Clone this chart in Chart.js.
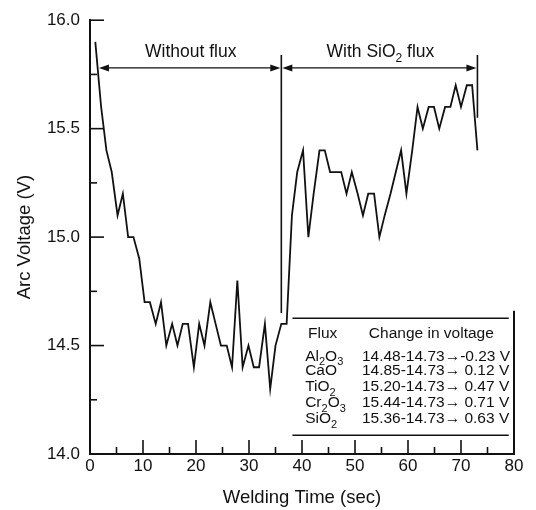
<!DOCTYPE html>
<html>
<head>
<meta charset="utf-8">
<script src="https://cdn.jsdelivr.net/npm/chart.js@4.4.1/dist/chart.umd.min.js"></script>
<style>
  html, body { margin: 0; padding: 0; background: #fff; }
  canvas { display: block; }
</style>
</head>
<body>
<canvas id="chart" width="536" height="510"></canvas>
<script>
// welding time (sec) of each reading
const times = [
  1.0, 2.1, 3.1, 4.1, 5.2, 6.2, 7.2, 8.2, 9.3, 10.3,
  11.3, 12.4, 13.4, 14.4, 15.5, 16.5, 17.5, 18.5, 19.6, 20.6,
  21.6, 22.7, 23.7, 24.7, 25.8, 26.8, 27.8, 28.8, 29.9, 30.9,
  31.9, 33.0, 34.0, 35.0, 36.1, 37.1, 38.1, 39.1, 40.2, 41.2,
  42.2, 43.3, 44.3, 45.3, 46.4, 47.4, 48.4, 49.4, 50.5, 51.5,
  52.5, 53.6, 54.6, 55.6, 56.7, 57.7, 58.7, 59.7, 60.8, 61.8,
  62.8, 63.9, 64.9, 65.9, 67.0, 68.0, 69.0, 70.0, 71.1, 72.1,
  73.1
];
// arc voltage (V)
const voltage = [
  15.9, 15.6, 15.4, 15.3, 15.1, 15.2, 15.0, 15.0, 14.9, 14.7,
  14.7, 14.6, 14.7, 14.5, 14.6, 14.5, 14.6, 14.6, 14.4, 14.6,
  14.5, 14.7, 14.6, 14.5, 14.5, 14.4, 14.8, 14.4, 14.5, 14.4,
  14.4, 14.6, 14.3, 14.5, 14.6, 14.6, 15.1, 15.3, 15.4, 15.0,
  15.2, 15.4, 15.4, 15.3, 15.3, 15.3, 15.2, 15.3, 15.2, 15.1,
  15.2, 15.2, 15.0, 15.1, 15.2, 15.3, 15.4, 15.2, 15.4, 15.6,
  15.5, 15.6, 15.6, 15.5, 15.6, 15.6, 15.7, 15.6, 15.7, 15.7,
  15.4
];

const xMajorTicks = [0, 10, 20, 30, 40, 50, 60, 70, 80];
const xMinorTicks = [5, 15, 25, 35, 45, 55, 65, 75];
const yMajorTicks = [14, 14.5, 15, 15.5, 16];
const yMinorTicks = [14.25, 14.75, 15.25, 15.75];

// phases: arrow start, flux switch, end (sec)
const phaseBounds = [1.5, 36.1, 73.1];
const phaseLabels = ["Without flux", "With SiO_2 flux"];

const fluxNames = ["Al_2O_3", "CaO", "TiO_2", "Cr_2O_3", "SiO_2"];
const voltageChanges = [
  "14.48-14.73\u2192-0.23 V",
  "14.85-14.73\u2192 0.12 V",
  "15.20-14.73\u2192 0.47 V",
  "15.44-14.73\u2192 0.71 V",
  "15.36-14.73\u2192 0.63 V"
];

const FONT = "'Liberation Sans', Arial, Helvetica, sans-serif";
const INK = "#111";

// text with "_2" style subscripts
function richText(ctx, str, x, y, size, align) {
  const parts = [];
  for (let i = 0; i < str.length; i++) {
    if (str[i] === "_" && i + 1 < str.length) {
      parts.push({ t: str[i + 1], sub: true });
      i++;
    } else {
      const last = parts[parts.length - 1];
      if (last && !last.sub) last.t += str[i];
      else parts.push({ t: str[i], sub: false });
    }
  }
  const subSize = Math.round(size * 0.68);
  let width = 0;
  parts.forEach(p => {
    ctx.font = `${p.sub ? subSize : size}px ${FONT}`;
    p.w = ctx.measureText(p.t).width;
    width += p.w;
  });
  let cx = align === "center" ? x - width / 2 : x;
  ctx.textAlign = "left";
  ctx.textBaseline = "alphabetic";
  parts.forEach(p => {
    ctx.font = `${p.sub ? subSize : size}px ${FONT}`;
    ctx.fillText(p.t, cx, p.sub ? y + size * 0.28 : y);
    cx += p.w;
  });
}

function arrowHead(ctx, x, y, dir) {
  ctx.beginPath();
  ctx.moveTo(x, y);
  ctx.lineTo(x - dir * 10, y - 3.5);
  ctx.lineTo(x - dir * 10, y + 3.5);
  ctx.closePath();
  ctx.fill();
}

const decorations = {
  id: "decorations",
  afterDatasetsDraw(chart) {
    const { ctx, chartArea, scales: { x, y } } = chart;
    ctx.save();
    ctx.strokeStyle = INK;
    ctx.fillStyle = INK;

    // inward tick marks
    ctx.lineWidth = 1.6;
    const bottom = chartArea.bottom, left = chartArea.left;
    xMajorTicks.forEach(v => {
      const px = x.getPixelForValue(v);
      ctx.beginPath(); ctx.moveTo(px, bottom); ctx.lineTo(px, bottom - 14); ctx.stroke();
    });
    xMinorTicks.forEach(v => {
      const px = x.getPixelForValue(v);
      ctx.beginPath(); ctx.moveTo(px, bottom); ctx.lineTo(px, bottom - 7); ctx.stroke();
    });
    yMajorTicks.forEach(v => {
      const py = y.getPixelForValue(v);
      ctx.beginPath(); ctx.moveTo(left, py); ctx.lineTo(left + 14, py); ctx.stroke();
    });
    yMinorTicks.forEach(v => {
      const py = y.getPixelForValue(v);
      ctx.beginPath(); ctx.moveTo(left, py); ctx.lineTo(left + 7, py); ctx.stroke();
    });

    // right frame line beside the table
    ctx.lineWidth = 2;
    ctx.beginPath();
    ctx.moveTo(chartArea.right, bottom); ctx.lineTo(chartArea.right, y.getPixelForValue(14.66));
    ctx.stroke();

    // phase dividers and arrows
    const [t0, t1, t2] = phaseBounds.map(v => x.getPixelForValue(v));
    const arrowY = y.getPixelForValue(15.78);
    const topY = y.getPixelForValue(15.84);
    ctx.lineWidth = 1.6;
    ctx.beginPath();
    ctx.moveTo(t1, topY); ctx.lineTo(t1, y.getPixelForValue(14.65));
    ctx.moveTo(t2, topY); ctx.lineTo(t2, y.getPixelForValue(15.55));
    ctx.stroke();
    ctx.lineWidth = 1.3;
    ctx.beginPath();
    ctx.moveTo(t0 + 4, arrowY); ctx.lineTo(t1 - 4, arrowY);
    ctx.moveTo(t1 + 4, arrowY); ctx.lineTo(t2 - 4, arrowY);
    ctx.stroke();
    arrowHead(ctx, t0 + 1, arrowY, -1);
    arrowHead(ctx, t1 - 1, arrowY, 1);
    arrowHead(ctx, t1 + 1, arrowY, -1);
    arrowHead(ctx, t2 - 1, arrowY, 1);

    const labelY = y.getPixelForValue(15.83);
    richText(ctx, phaseLabels[0], x.getPixelForValue(19.0), labelY, 17.5, "center");
    richText(ctx, phaseLabels[1], x.getPixelForValue(54.8), labelY, 17.5, "center");

    // flux table
    const tl = x.getPixelForValue(38.2), tr = x.getPixelForValue(79.0);
    ctx.lineWidth = 1.5;
    ctx.beginPath();
    ctx.moveTo(tl, y.getPixelForValue(14.626)); ctx.lineTo(tr, y.getPixelForValue(14.626));
    ctx.moveTo(tl, y.getPixelForValue(14.086)); ctx.lineTo(tr, y.getPixelForValue(14.086));
    ctx.stroke();

    const headY = y.getPixelForValue(14.562) + 5.5;
    richText(ctx, "Flux", x.getPixelForValue(43.9), headY, 15.5, "center");
    richText(ctx, "Change in voltage", x.getPixelForValue(64.4), headY, 15.5, "center");
    const rowVals = [14.456, 14.388, 14.314, 14.241, 14.167];
    fluxNames.forEach((name, i) => {
      const ry = y.getPixelForValue(rowVals[i]) + 5.5;
      richText(ctx, name, x.getPixelForValue(40.6), ry, 15.5, "left");
      richText(ctx, voltageChanges[i], x.getPixelForValue(51.3), ry, 15.5, "left");
    });
    ctx.restore();
  }
};

new Chart(document.getElementById("chart"), {
  type: "line",
  data: {
    datasets: [{
      data: times.map((t, i) => ({ x: t, y: voltage[i] })),
      borderColor: INK,
      borderWidth: 1.8,
      pointRadius: 0,
      tension: 0,
      fill: false
    }]
  },
  options: {
    responsive: false,
    animation: false,
    layout: { padding: { top: 18, right: 22, left: 0, bottom: 0 } },
    plugins: { legend: { display: false }, tooltip: { enabled: false } },
    scales: {
      x: {
        type: "linear",
        min: 0,
        max: 80,
        afterFit: s => { s.height = 56; },
        grid: { display: false, drawTicks: false },
        border: { display: true, color: INK, width: 2 },
        ticks: {
          stepSize: 10,
          padding: 2,
          color: INK,
          font: { family: FONT, size: 17 }
        },
        title: {
          display: true,
          text: "Welding Time (sec)",
          color: INK,
          font: { family: FONT, size: 18.5 },
          padding: { top: 0, bottom: 1 }
        }
      },
      y: {
        min: 14,
        max: 16,
        afterFit: s => { s.width = 90; },
        grid: { display: false, drawTicks: false },
        border: { display: true, color: INK, width: 2 },
        ticks: {
          stepSize: 0.5,
          padding: 10,
          color: INK,
          font: { family: FONT, size: 17 },
          callback: v => v.toFixed(1)
        },
        title: {
          display: true,
          text: "Arc Voltage (V)",
          color: INK,
          font: { family: FONT, size: 18.5 },
          padding: { top: 14, bottom: 0 }
        }
      }
    }
  },
  plugins: [decorations]
});
</script>
</body>
</html>
